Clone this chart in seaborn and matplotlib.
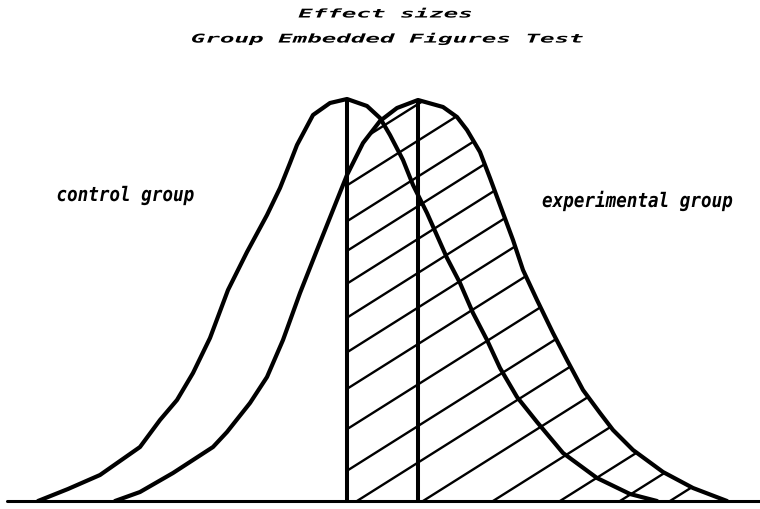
import matplotlib
matplotlib.use("Agg")
import matplotlib.pyplot as plt
import seaborn as sns
import pandas as pd
from matplotlib.patches import Polygon
from matplotlib.patheffects import AbstractPathEffect
from matplotlib.transforms import Affine2D

BASE = 501  # baseline row, used to turn measured rows into heights

# Curve outlines: horizontal position and row (0 at the top edge)
control_x = [38, 68, 100, 140, 160, 177, 193, 210, 228, 247, 267, 280, 290, 297, 313, 330, 347,
             367, 380, 390, 403, 413, 427, 447, 460, 473, 487, 500, 517, 537, 563, 597, 630, 657]
control_row = [501, 489, 475, 447, 420, 400, 373, 338, 290, 252, 215, 188, 163, 145, 115, 103, 99,
               106, 118, 135, 160, 185, 213, 258, 283, 313, 340, 368, 397, 422, 453, 478, 494, 501]

experimental_x = [115, 140, 173, 213, 227, 250, 267, 283, 300, 317, 333, 347, 363, 380, 397, 418,
                  443, 457, 467, 480, 490, 500, 513, 523, 537, 553, 567, 583, 600, 613, 633, 663,
                  693, 727]
experimental_row = [501, 492, 473, 447, 432, 403, 377, 340, 293, 250, 210, 175, 143, 121, 108, 100,
                    107, 117, 130, 152, 178, 205, 240, 270, 300, 333, 360, 390, 413, 430, 450, 472,
                    488, 501]

# Hatching: where each hatch stroke meets the baseline, and the common slope
hatch_x0 = [-212, -154, -97, -50, 2, 56, 111, 169, 233, 299, 357, 423, 493, 560, 620, 670]
hatch_slope = 0.63

title_lines = ["Effect sizes", "Group Embedded Figures Test"]
group_labels = ["control group", "experimental group"]


class Stretch(AbstractPathEffect):
    """Scale glyphs horizontally about the centre of the text."""

    def __init__(self, sx):
        super().__init__()
        self.sx = sx

    def draw_path(self, renderer, gc, tpath, affine, rgbFace=None):
        ext = tpath.get_extents()
        cx = 0.5 * (ext.x0 + ext.x1)
        t = Affine2D().translate(-cx, 0).scale(self.sx, 1.0).translate(cx, 0) + affine
        renderer.draw_path(gc, tpath, t, rgbFace)


sns.set_style("white")
fig = plt.figure(figsize=(7.6, 5.09), dpi=100)
ax = fig.add_axes([0, 0, 1, 1])
ax.set_xlim(0, 760)
ax.set_ylim(-8, 501)
ax.axis("off")

df_c = pd.DataFrame({"x": control_x, "h": [BASE - r for r in control_row]})
df_e = pd.DataFrame({"x": experimental_x, "h": [BASE - r for r in experimental_row]})

# Shaded region: under the experimental curve, right of the control mean
c_peak = df_c.loc[df_c["h"].idxmax()]
e_peak = df_e.loc[df_e["h"].idxmax()]
region = df_e[df_e["x"] >= c_peak["x"]]
poly_pts = [(c_peak["x"], 0)] + list(zip(region["x"], region["h"])) + [(region["x"].iloc[-1], 0)]
clip = Polygon(poly_pts, closed=True, facecolor="none", edgecolor="none")
ax.add_patch(clip)

for x0 in hatch_x0:
    run = 700
    ln, = ax.plot([x0, x0 + run], [0, hatch_slope * run], color="black", lw=1.7,
                  solid_capstyle="round")
    ln.set_clip_path(clip)

# Baseline
ax.axhline(0, xmin=7 / 760, xmax=1, color="black", lw=2.2)

# Distribution outlines
for df in (df_c, df_e):
    sns.lineplot(data=df, x="x", y="h", sort=False, color="black", lw=3.0, ax=ax,
                 solid_joinstyle="round", solid_capstyle="round")

# Mean lines
ax.vlines([c_peak["x"], e_peak["x"]], 0, [c_peak["h"], e_peak["h"]], color="black", lw=2.9)

# Titles
title_kw = dict(family="DejaVu Sans Mono", weight="bold", style="oblique", size=8.7,
                ha="center", va="center", color="black",
                path_effects=[Stretch(2.0)])
ax.text(385, 487, title_lines[0], **title_kw)
ax.text(387, 462, title_lines[1], **title_kw)

# Group labels
label_kw = dict(family="DejaVu Sans Mono", weight="bold", style="oblique", size=14.4,
                ha="center", va="baseline", color="black",
                path_effects=[Stretch(0.88)])
ax.text(125, 300, group_labels[0], **label_kw)
ax.text(637, 294, group_labels[1], **label_kw)

fig.savefig("out.png", dpi=100)
